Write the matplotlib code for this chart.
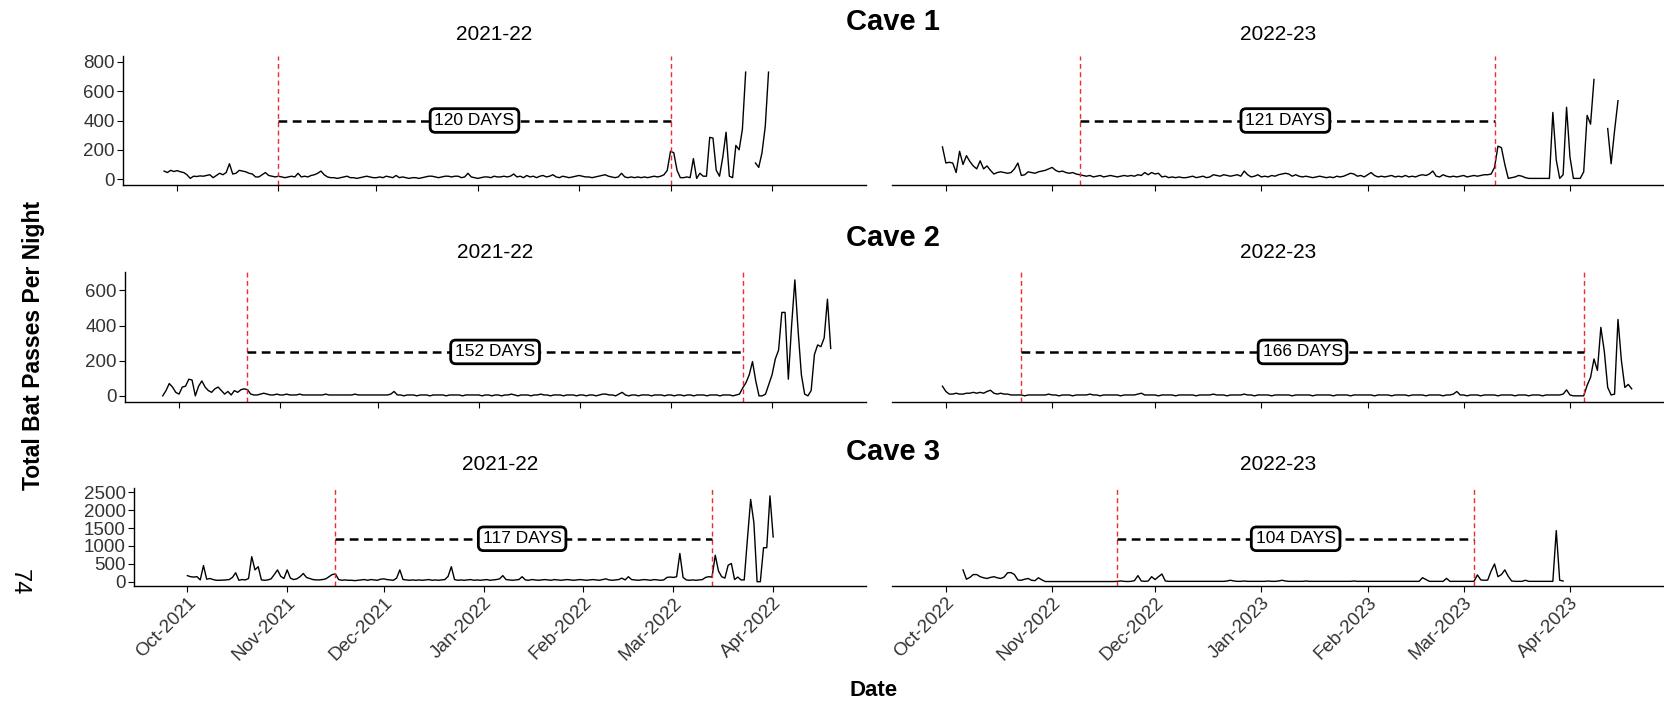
import matplotlib.pyplot as plt
import matplotlib.dates as mdates
import numpy as np

plt.rcParams['font.family'] = ['Liberation Sans', 'DejaVu Sans']

nan = np.nan

caves = ['Cave 1', 'Cave 2', 'Cave 3']
seasons = ['2021-22', '2022-23']

# first night of each nightly series (2021-22, 2022-23)
cave1_start = ['2021-09-27', '2022-09-30']
cave2_start = ['2021-09-26', '2022-09-30']
cave3_start = ['2021-10-01', '2022-10-06']

# total bat passes per night (nan = above the axis limit, dropped)
cave1_2122 = [55, 45, 60, 52,
              58, 50, 45, 30, 5, 20, 18, 22, 20, 25, 30, 10, 25, 40, 30, 45, 105, 35, 40, 60, 55, 50, 40, 35, 15, 15, 30, 45, 25, 20, 15,
              20, 15, 10, 15, 20, 15, 40, 15, 20, 15, 25, 30, 40, 55, 30, 15, 10, 10, 5, 10, 15, 20, 10, 10, 5, 10, 15, 20, 15, 10,
              10, 15, 10, 20, 15, 10, 25, 10, 15, 10, 5, 10, 10, 5, 10, 15, 20, 20, 15, 10, 15, 20, 20, 15, 20, 20, 10, 15, 40, 15, 10,
              5, 10, 15, 15, 10, 20, 15, 15, 20, 15, 20, 35, 15, 20, 10, 25, 15, 20, 10, 20, 25, 15, 20, 30, 15, 10, 20, 15, 10, 15, 20,
              25, 20, 15, 15, 10, 15, 20, 25, 30, 20, 15, 10, 15, 40, 15, 10, 15, 10, 15, 10, 15, 10, 15, 20, 15, 20, 30, 60,
              190, 180, 60, 10, 10, 15, 10, 140, 5, 40, 20, 20, 285, 280, 60, 20, 150, 320, 20, 10, 230, 200, 340, 730, nan, nan, 110, 80, 180, 360, 730]
cave1_2223 = [220,
              110, 115, 110, 45, 190, 100, 160, 120, 90, 70, 125, 70, 90, 60, 35, 45, 50, 45, 40, 45, 70, 110, 25, 30, 50, 45, 40, 50, 55, 60, 70,
              80, 60, 50, 55, 45, 40, 45, 35, 30, 25, 20, 25, 15, 20, 25, 15, 20, 25, 20, 15, 20, 25, 20, 25, 20, 30, 25, 45, 30, 45,
              35, 40, 15, 20, 10, 15, 10, 15, 10, 10, 15, 20, 10, 15, 20, 10, 15, 30, 25, 20, 30, 25, 20, 25, 30, 20, 55, 30, 15, 20, 30,
              15, 20, 15, 25, 20, 30, 35, 40, 35, 20, 30, 20, 15, 20, 15, 10, 15, 20, 15, 10, 15, 10, 20, 15, 20, 30, 40, 35, 20, 25, 15,
              30, 45, 25, 15, 20, 15, 20, 25, 15, 20, 15, 25, 15, 20, 15, 25, 30, 25, 35, 55, 20, 15, 30, 20, 15, 20, 15, 20,
              25, 15, 20, 25, 20, 25, 30, 30, 35, 80, 225, 215, 100, 5, 10, 15, 25, 20, 10, 5, 5, 5, 5, 5, 5, 5, 455, 130, 5, 30, 490,
              150, 5, 5, 5, 50, 435, 375, 680, nan, nan, nan, 345, 105, 330, 535]
cave2_2122 = [0, 30, 70, 50, 20,
              10, 50, 55, 95, 90, 0, 55, 85, 50, 30, 20, 40, 50, 30, 10, 25, 5, 30, 20, 35, 40, 35, 10, 5, 5, 10, 15, 10, 5, 5, 10,
              5, 5, 10, 5, 5, 5, 10, 5, 5, 5, 5, 5, 5, 5, 10, 5, 5, 5, 5, 5, 5, 5, 5, 10, 5, 5, 5, 5, 5, 5,
              5, 5, 5, 5, 10, 25, 5, 5, 0, 5, 5, 5, 0, 5, 5, 5, 0, 5, 5, 5, 5, 0, 5, 5, 5, 5, 0, 5, 5, 5, 5,
              5, 0, 5, 5, 0, 5, 5, 0, 5, 5, 10, 5, 0, 5, 5, 5, 0, 5, 5, 10, 5, 5, 0, 5, 5, 5, 0, 5, 5, 5, 0,
              5, 5, 0, 5, 5, 0, 5, 10, 10, 5, 5, 0, 10, 20, 5, 0, 5, 5, 0, 5, 5, 5, 0, 5, 5, 5, 0, 5,
              5, 0, 5, 5, 0, 5, 5, 0, 5, 5, 5, 0, 5, 5, 5, 0, 5, 5, 5, 0, 5, 10, 45, 75, 120, 195, 85, 0, 0, 10, 65,
              120, 210, 260, 475, 475, 95, 400, 660, 370, 120, 10, 0, 30, 235, 290, 280, 330, 550, 270]
cave2_2223 = [55,
              25, 10, 10, 15, 10, 10, 15, 15, 20, 15, 20, 15, 25, 32, 15, 10, 15, 10, 10, 5, 5, 5, 5, 0, 5, 5, 5, 5, 5, 5, 10,
              5, 5, 0, 5, 5, 5, 0, 5, 5, 5, 5, 10, 5, 5, 0, 5, 5, 5, 5, 5, 0, 5, 5, 5, 5, 10, 15, 5, 5, 5,
              5, 0, 5, 5, 5, 5, 0, 5, 5, 5, 5, 5, 0, 5, 5, 5, 5, 10, 5, 5, 5, 0, 5, 5, 5, 5, 10, 5, 5, 0, 5,
              5, 5, 5, 0, 5, 5, 5, 5, 5, 0, 5, 5, 5, 5, 5, 0, 5, 5, 5, 5, 5, 0, 5, 5, 5, 5, 0, 5, 5, 5, 5,
              5, 5, 0, 5, 5, 5, 5, 0, 5, 5, 5, 5, 0, 5, 5, 5, 5, 0, 5, 5, 5, 5, 0, 5, 5, 10, 25, 5,
              5, 0, 5, 5, 5, 0, 5, 5, 5, 5, 0, 5, 5, 5, 5, 0, 5, 5, 5, 0, 5, 5, 5, 0, 5, 5, 5, 5, 5, 10, 34,
              5, 0, 0, 0, 0, 60, 105, 210, 145, 390, 255, 48, 5, 10, 435, 200, 48, 65, 40]
cave3_2122 = [170, 140, 130, 140, 50, 450, 70, 90, 60, 40, 40, 45, 50, 60, 120, 250, 40, 60, 50, 90, 700, 330, 420, 50, 40, 50, 80, 200, 330, 150, 90,
              330, 100, 60, 80, 140, 230, 120, 90, 60, 50, 50, 60, 80, 140, 200, 215, 60, 40, 50, 40, 40, 30, 40, 50, 60, 40, 60, 50, 40, 70,
              80, 60, 50, 40, 100, 330, 60, 50, 40, 50, 40, 50, 40, 50, 60, 40, 50, 40, 50, 60, 150, 420, 60, 40, 50, 40, 50, 60, 40, 50, 40,
              50, 60, 40, 50, 60, 80, 170, 60, 50, 40, 50, 60, 140, 50, 40, 60, 50, 40, 50, 60, 50, 40, 60, 50, 40, 50, 60, 50, 40, 50, 60,
              50, 40, 50, 60, 50, 40, 60, 80, 50, 40, 50, 60, 100, 50, 140, 60, 50, 40, 50, 60, 50, 40, 60, 50, 40, 50, 120, 130,
              120, 140, 790, 120, 50, 40, 50, 40, 50, 60, 120, 140, 130, 740, 300, 140, 100, 460, 510, 60, 130, 50, 50, 1200, 2300, 1650, 0, 0, 950, 950, 2400,
              1250]
cave3_2223 = [330, 70, 120, 200, 200, 140, 110, 90, 120, 140, 110, 90, 130, 250, 255, 200, 47, 40, 70, 90, 40, 30, 110, 50, 5, 5,
              5, 5, 5, 5, 5, 5, 5, 5, 5, 5, 5, 5, 5, 5, 5, 5, 5, 5, 5, 10, 20, 10, 5, 10, 30, 170, 20, 10, 20, 140,
              60, 140, 215, 20, 10, 10, 10, 10, 10, 10, 10, 10, 10, 10, 10, 10, 10, 10, 10, 10, 10, 20, 40, 20, 10, 10, 20, 10, 10, 10, 10,
              10, 10, 20, 10, 10, 20, 40, 20, 10, 10, 10, 10, 10, 20, 10, 10, 10, 10, 10, 10, 10, 10, 10, 10, 10, 10, 10, 20, 10, 10, 10,
              10, 10, 10, 10, 10, 10, 10, 10, 10, 10, 10, 10, 10, 10, 10, 10, 112, 60, 10, 10, 10, 10, 10, 93, 10, 10, 10, 10,
              10, 10, 10, 10, 190, 50, 40, 45, 300, 495, 140, 200, 330, 150, 20, 10, 10, 10, 40, 10, 10, 10, 10, 10, 10, 10, 10, 1430, 40, 20]

# hibernation window (first day, last day) and its length label
cave1_hib = [('2021-11-01', '2022-03-01'), ('2022-11-09', '2023-03-10')]
cave2_hib = [('2021-10-22', '2022-03-23'), ('2022-10-23', '2023-04-05')]
cave3_hib = [('2021-11-16', '2022-03-13'), ('2022-11-20', '2023-03-04')]
cave1_days = ['120 DAYS', '121 DAYS']
cave2_days = ['152 DAYS', '166 DAYS']
cave3_days = ['117 DAYS', '104 DAYS']
hib_level = [400, 250, 1200]

y_ticks = [[0, 200, 400, 600, 800], [0, 200, 400, 600], [0, 500, 1000, 1500, 2000, 2500]]
y_limits = [(-40, 840), (-35, 705), (-120, 2620)]
season_xlim = [('2021-09-14T10:00', '2022-04-29T20:00'), ('2022-09-15T07:00', '2023-04-28T17:00')]

starts = [cave1_start, cave2_start, cave3_start]
series = [[cave1_2122, cave1_2223], [cave2_2122, cave2_2223], [cave3_2122, cave3_2223]]
hibs = [cave1_hib, cave2_hib, cave3_hib]
days = [cave1_days, cave2_days, cave3_days]

# layout in pixels
W, H = 1665, 704
row_top = [56, 272, 488]
row_bot = [185, 402, 586]
left_x0 = [123, 125, 134]
left_x1 = 866
right_x0, right_x1 = 892, 1665
title_y = [22, 238, 452]
strip_y = [35, 253, 465]

fig = plt.figure(figsize=(W / 100, H / 100), dpi=100)

for r in range(3):
    for c in range(2):
        x0 = left_x0[r] if c == 0 else right_x0
        x1 = left_x1 if c == 0 else right_x1
        ax = fig.add_axes([x0 / W, 1 - row_bot[r] / H, (x1 - x0) / W, (row_bot[r] - row_top[r]) / H])

        vals = np.array(series[r][c], dtype=float)
        dates = np.datetime64(starts[r][c]) + np.arange(len(vals))
        ax.plot(dates, vals, color='black', lw=1.0)

        s, e = np.datetime64(hibs[r][c][0]), np.datetime64(hibs[r][c][1])
        for d in (s, e):
            ax.axvline(d, color='#ee2a2a', lw=1.0, dashes=(3.5, 2.5))
        ax.plot([s, e], [hib_level[r], hib_level[r]], color='black', lw=1.8, dashes=(3.5, 2.2))
        ax.text(s + (e - s) // 2, hib_level[r], days[r][c], ha='center', va='center', fontsize=12.5,
                bbox=dict(boxstyle='round,pad=0.25,rounding_size=0.3', fc='white', ec='black', lw=2.0),
                zorder=5)

        ax.set_xlim(np.datetime64(season_xlim[c][0]), np.datetime64(season_xlim[c][1]))
        ax.set_ylim(*y_limits[r])
        ax.xaxis.set_major_locator(mdates.MonthLocator())
        ax.xaxis.set_major_formatter(mdates.DateFormatter('%b-%Y'))

        for side in ('top', 'right'):
            ax.spines[side].set_visible(False)
        ax.spines['bottom'].set_linewidth(1.0)
        ax.spines['left'].set_linewidth(1.0)
        ax.tick_params(length=4, width=0.8, colors='black', labelcolor='#333333', labelsize=13.5, pad=2)

        if c == 0:
            ax.set_yticks(y_ticks[r])
        else:
            ax.spines['left'].set_visible(False)
            ax.set_yticks([])

        if r < 2:
            ax.tick_params(axis='x', labelbottom=False)
        else:
            for lab in ax.get_xticklabels():
                lab.set_rotation(45)
                lab.set_ha('right')
                lab.set_va('top')
                lab.set_rotation_mode('anchor')

        fig.text((x0 + x1) / 2 / W, 1 - strip_y[r] / H, seasons[c], ha='center', va='center', fontsize=15)

    fig.text(893 / W, 1 - title_y[r] / H, caves[r], ha='center', va='center', fontsize=21, fontweight='bold')

fig.text(34 / W, 1 - 345 / H, 'Total Bat Passes Per Night', rotation=90, ha='center', va='center',
         fontsize=16.5, fontweight='bold')
fig.text(874 / W, 1 - 690 / H, 'Date', ha='center', va='center', fontsize=16, fontweight='bold')
fig.text(19 / W, 1 - 582 / H, '74', rotation=-90, ha='center', va='center', fontsize=17)

fig.savefig('out.png', dpi=100)
